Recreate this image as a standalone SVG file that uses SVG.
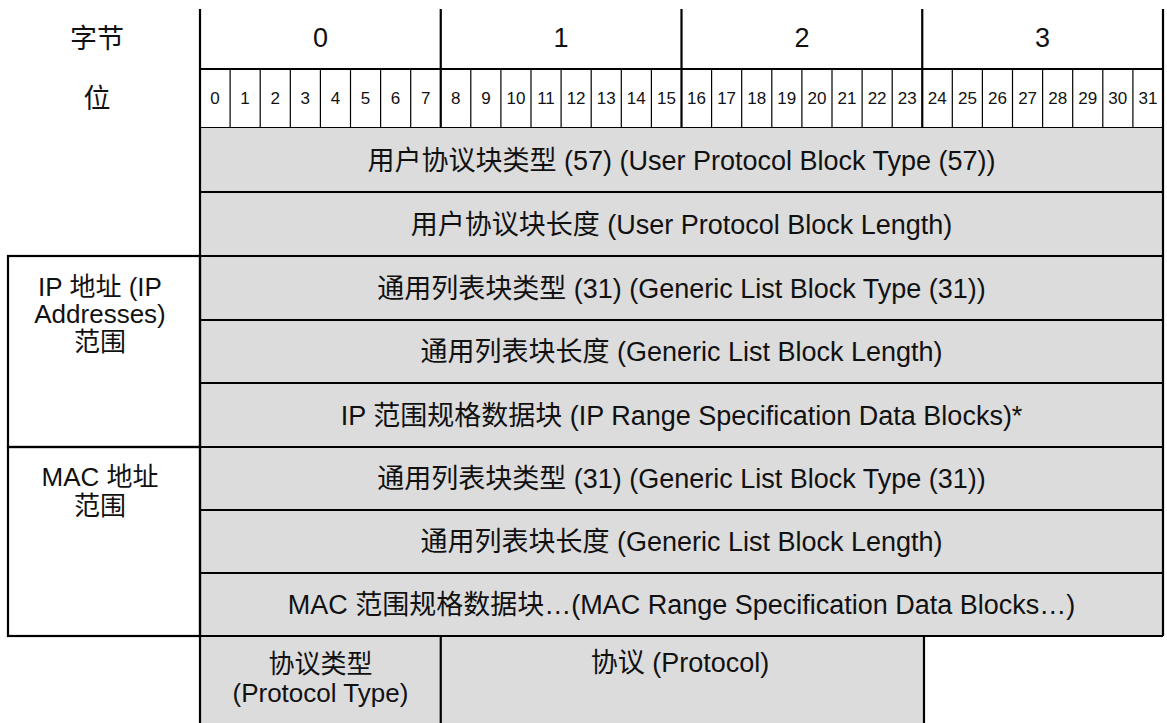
<svg xmlns="http://www.w3.org/2000/svg" width="1167" height="723" viewBox="0 0 1167 723">
<style>
text{font-family:"Liberation Sans","Noto Sans CJK SC",sans-serif;fill:#111;text-anchor:middle}
.t{font-size:27px}
.s{font-size:26px}
.b{font-size:17px}
.gray{fill:#dcdcdc}
.thick{stroke:#000;stroke-width:2.2;fill:none}
.thin{stroke:#000;stroke-width:1.2;fill:none}
.row{stroke:#000;stroke-width:1.8;fill:none}
</style>
<rect width="1167" height="723" fill="#fff"/>
<g id="header">
<text class="t" x="97" y="48">字节</text>
<text class="t" x="97" y="108">位</text>
<text class="t" x="320.4" y="47">0</text>
<text class="t" x="561.1" y="47">1</text>
<text class="t" x="802" y="47">2</text>
<text class="t" x="1042.6" y="47">3</text>
<g>
<text class="b" x="215" y="104">0</text><text class="b" x="245.1" y="104">1</text><text class="b" x="275.2" y="104">2</text><text class="b" x="305.3" y="104">3</text><text class="b" x="335.4" y="104">4</text><text class="b" x="365.5" y="104">5</text><text class="b" x="395.6" y="104">6</text><text class="b" x="425.7" y="104">7</text>
<text class="b" x="455.8" y="104">8</text><text class="b" x="485.9" y="104">9</text><text class="b" x="516" y="104">10</text><text class="b" x="546" y="104">11</text><text class="b" x="576.1" y="104">12</text><text class="b" x="606.2" y="104">13</text><text class="b" x="636.3" y="104">14</text><text class="b" x="666.4" y="104">15</text>
<text class="b" x="696.5" y="104">16</text><text class="b" x="726.6" y="104">17</text><text class="b" x="756.7" y="104">18</text><text class="b" x="786.8" y="104">19</text><text class="b" x="816.9" y="104">20</text><text class="b" x="847" y="104">21</text><text class="b" x="877.1" y="104">22</text><text class="b" x="907.2" y="104">23</text>
<text class="b" x="937.3" y="104">24</text><text class="b" x="967.4" y="104">25</text><text class="b" x="997.5" y="104">26</text><text class="b" x="1027.6" y="104">27</text><text class="b" x="1057.7" y="104">28</text><text class="b" x="1087.8" y="104">29</text><text class="b" x="1117.8" y="104">30</text><text class="b" x="1147.9" y="104">31</text>
</g>
<path class="thin" d="M230.1 69V128M260.2 69V128M290.3 69V128M320.4 69V128M350.5 69V128M380.6 69V128M410.7 69V128M470.8 69V128M500.9 69V128M531 69V128M561.1 69V128M591.2 69V128M621.3 69V128M651.4 69V128M711.6 69V128M741.7 69V128M771.8 69V128M801.9 69V128M832 69V128M862.1 69V128M892.2 69V128M952.3 69V128M982.4 69V128M1012.5 69V128M1042.6 69V128M1072.7 69V128M1102.8 69V128M1132.9 69V128"/>
<path class="thick" d="M440.75 9V128M681.5 9V128M922.25 9V128M200 69H1163M200 128H1163"/>
</g>
<g id="rows">
<rect class="gray" x="200" y="128" width="963" height="508"/>
<rect class="gray" x="200" y="636" width="724" height="87"/>
<path class="row" d="M200 192H1163M200 256H1163M200 320H1163M200 383H1163M200 447H1163M200 510H1163M200 573H1163"/>
<text class="t" x="681.5" y="169.5">用户协议块类型 (57) (User Protocol Block Type (57))</text>
<text class="t" x="681.5" y="233.5">用户协议块长度 (User Protocol Block Length)</text>
<text class="t" x="681.5" y="297.5">通用列表块类型 (31) (Generic List Block Type (31))</text>
<text class="t" x="681.5" y="361">通用列表块长度 (Generic List Block Length)</text>
<text class="t" x="681.5" y="424.5">IP 范围规格数据块 (IP Range Specification Data Blocks)*</text>
<text class="t" x="681.5" y="488">通用列表块类型 (31) (Generic List Block Type (31))</text>
<text class="t" x="681.5" y="551">通用列表块长度 (Generic List Block Length)</text>
<text class="t" x="681.5" y="614">MAC 范围规格数据块…(MAC Range Specification Data Blocks…)</text>
</g>
<g id="ip-group">
<rect class="thick" x="8" y="256" width="192" height="191"/>
<text class="s" x="100" y="296">IP 地址 (IP</text>
<text class="s" x="100" y="323">Addresses)</text>
<text class="s" x="100" y="351">范围</text>
</g>
<g id="mac-group">
<rect class="thick" x="8" y="447" width="192" height="189"/>
<text class="s" x="100" y="486">MAC 地址</text>
<text class="s" x="100" y="515">范围</text>
</g>
<g id="protocol-type">
<text class="s" x="320.4" y="673">协议类型</text>
<text class="s" x="320.4" y="702">(Protocol Type)</text>
</g>
<g id="protocol">
<text class="t" x="680" y="672">协议 (Protocol)</text>
</g>
<g id="frame">
<path class="thick" d="M200 9V723M1163 9V636M8 636H1163M440.75 636V723M924 636V723"/>
</g>
</svg>
